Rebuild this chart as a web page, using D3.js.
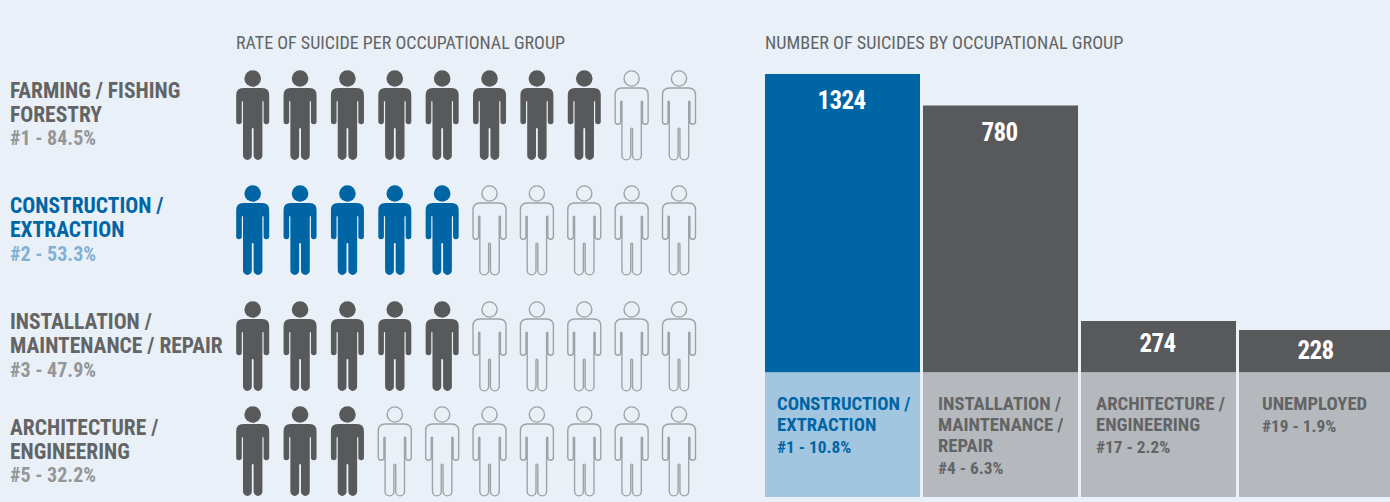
<!DOCTYPE html>
<html><head><meta charset="utf-8">
<script src="https://cdn.jsdelivr.net/npm/d3@7"></script>
<style>
html,body{margin:0;padding:0;background:#e9f0f7;overflow:hidden}
svg{display:block}
text{font-family:"Liberation Sans Narrow","Roboto Condensed","Liberation Sans",sans-serif}
.b{font-weight:700}
</style></head><body><svg id="c" width="1390" height="502"></svg>
<script>
// ---- data ----
const rateGroups = ["Farming","Construction","Installation","Architecture"];
const rateLabels = [["FARMING / FISHING","FORESTRY"],["CONSTRUCTION /","EXTRACTION"],["INSTALLATION /","MAINTENANCE / REPAIR"],["ARCHITECTURE /","ENGINEERING"]];
const rateRanks = ["#1 - 84.5%","#2 - 53.3%","#3 - 47.9%","#5 - 32.2%"];
const rateFilled = [8,5,5,3];
const iconSlots = [0,1,2,3,4,5,6,7,8,9];
const countGroups = ["Construction","Installation","Architecture","Unemployed"];
const countValues = [1324,780,274,228];
const countLabels = [["CONSTRUCTION /","EXTRACTION"],["INSTALLATION /","MAINTENANCE /","REPAIR"],["ARCHITECTURE /","ENGINEERING"],["UNEMPLOYED"]];
const countRanks = ["#1 - 10.8%","#4 - 6.3%","#17 - 2.2%","#19 - 1.9%"];
const titleLeft = "RATE OF SUICIDE PER OCCUPATIONAL GROUP";
const titleRight = "NUMBER OF SUICIDES BY OCCUPATIONAL GROUP";

const BLUE="#0065a4", GREY="#58595b", OUT="#a0a2a5";
const svg=d3.select("#c");

svg.append("text").attr("x",236).attr("y",49).attr("font-size",18).attr("fill","#636466").text(titleLeft);
svg.append("text").attr("x",765).attr("y",49).attr("font-size",18.2).attr("fill","#636466").text(titleRight);

// ---- left panel ----
const rowY=d3.scaleOrdinal().domain(rateGroups).range([70,185,301,406]);
const colX=d3.scalePoint().domain(iconSlots).range([252.7,679]);
const body="M-9.5,18 H9.5 Q16.5,18 16.5,25 V51.5 A2.8,2.8 0 0 1 10.9,51.5 V31.5 A.7,.7 0 0 0 9.7,31.5 V85.5 A4.4,4.4 0 0 1 .9,85.5 V59 A.9,.9 0 0 0 -.9,59 V85.5 A4.4,4.4 0 0 1 -9.7,85.5 V31.5 A.7,.7 0 0 0 -10.9,31.5 V51.5 A2.8,2.8 0 0 1 -16.5,51.5 V25 Q-16.5,18 -9.5,18 Z";
const nameShift=[0.5,1,1,2], rankShift=[-0.5,0,0,0];

rateGroups.forEach((g,i)=>{
  const top=rowY(g), col=i===1?BLUE:GREY, sub=i===1?"#7fb2d6":"#939598";
  const row=svg.append("g").attr("class","row");
  rateLabels[i].forEach((l,j)=>row.append("text").attr("class","b").attr("x",10).attr("y",top+27+nameShift[i]+j*24).attr("font-size",21.5).attr("fill",i===1?BLUE:"#636466").text(l));
  row.append("text").attr("class","b").attr("x",10).attr("y",top+75.5+rankShift[i]).attr("font-size",20).attr("fill",sub).text(rateRanks[i]);
  iconSlots.forEach(s=>{
    const on=s<rateFilled[i];
    const p=row.append("g").attr("transform",`translate(${colX(s)},${top})`);
    const st=on?{fill:col,stroke:"none"}:{fill:"none",stroke:OUT};
    p.append("circle").attr("cx",0).attr("cy",8.5).attr("r",on?8.3:7.6).attr("fill",st.fill).attr("stroke",st.stroke).attr("stroke-width",1.4);
    p.append("path").attr("d",body).attr("fill",st.fill).attr("stroke",st.stroke).attr("stroke-width",1.4);
  });
});

// ---- right panel ----
const barX=d3.scaleBand().domain(countGroups).range([765,1394]).paddingInner(0.019).paddingOuter(0);
// The source bars are not drawn to a single linear scale: this piecewise scale follows the picture.
const barH=d3.scaleLinear().domain([0,228,274,780,1324]).range([0,42.5,51.5,267,298.5]);
const BASE=372.5, LOW=497;
const valueDrop=[35,35,31,29], textInset=[12,15,15,23];
countGroups.forEach((g,i)=>{
  const x=barX(g), w=barX.bandwidth(), h=barH(countValues[i]);
  const blue=i===0;
  svg.append("rect").attr("x",x).attr("y",BASE-h).attr("width",w).attr("height",h).attr("fill",blue?BLUE:GREY);
  svg.append("rect").attr("x",x).attr("y",BASE).attr("width",w).attr("height",LOW-BASE).attr("fill",blue?"#a3c6e0":"#b5b9bd");
  svg.append("text").attr("class","b").attr("x",x+w/2-1).attr("y",BASE-h+valueDrop[i]).attr("text-anchor","middle").attr("font-size",25).attr("letter-spacing",-0.6).attr("fill","#fff").text(countValues[i]);
  const tx=x+textInset[i], tc=blue?BLUE:"#636466";
  countLabels[i].forEach((l,j)=>svg.append("text").attr("class","b").attr("x",tx).attr("y",410+j*21.2).attr("font-size",18.7).attr("fill",tc).text(l));
  svg.append("text").attr("class","b").attr("x",tx).attr("y",410.5+countLabels[i].length*21.2).attr("font-size",17.3).attr("fill",tc).text(countRanks[i]);
});
</script></body></html>
